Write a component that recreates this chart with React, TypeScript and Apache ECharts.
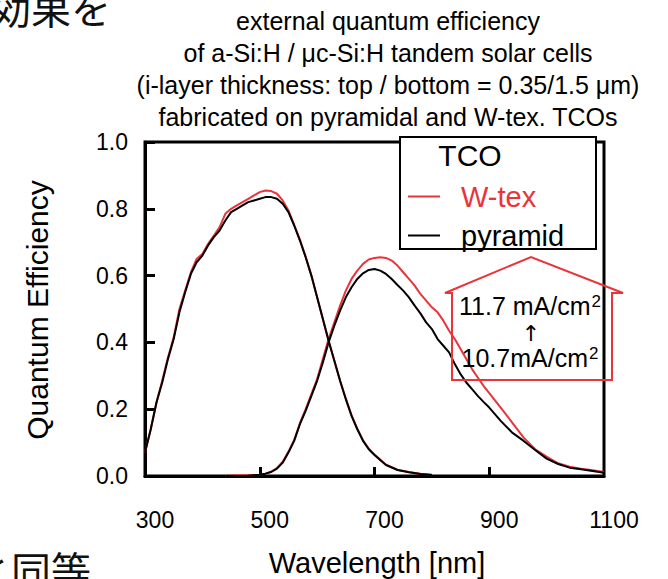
import React, { useEffect, useRef } from "react";
import * as echarts from "echarts";

// ---- data ----
const topWl = [300, 310, 320, 330, 340, 350, 360, 370, 380, 390, 400, 410, 420, 430, 440, 450, 460, 470, 480, 490, 500, 510, 520, 530, 540, 550, 560, 570, 580, 590, 600, 610, 620, 630, 640, 650, 660, 670, 680, 690, 700, 720, 740, 760, 780, 800];
const topPyramid = [0.07, 0.14, 0.22, 0.28, 0.35, 0.41, 0.49, 0.55, 0.605, 0.64, 0.66, 0.69, 0.715, 0.735, 0.765, 0.79, 0.8, 0.81, 0.82, 0.825, 0.83, 0.835, 0.835, 0.83, 0.815, 0.79, 0.75, 0.705, 0.655, 0.6, 0.535, 0.47, 0.405, 0.345, 0.285, 0.23, 0.18, 0.14, 0.105, 0.08, 0.063, 0.033, 0.018, 0.011, 0.006, 0.003];
const topWtex = [0.07, 0.14, 0.22, 0.285, 0.355, 0.415, 0.5, 0.555, 0.61, 0.65, 0.665, 0.695, 0.72, 0.745, 0.785, 0.8, 0.81, 0.82, 0.83, 0.84, 0.85, 0.855, 0.853, 0.845, 0.825, 0.795, 0.752, 0.708, 0.657, 0.6, 0.535, 0.47, 0.405, 0.345, 0.285, 0.232, 0.182, 0.142, 0.107, 0.082, 0.064, 0.034, 0.019, 0.012, 0.007, 0.004];
const botWl = [440, 460, 480, 500, 510, 520, 530, 540, 550, 560, 570, 580, 590, 600, 610, 620, 630, 640, 650, 660, 670, 680, 690, 700, 710, 720, 730, 740, 750, 760, 770, 780, 790, 800, 810, 820, 830, 840, 850, 860, 870, 880, 890, 900, 920, 940, 960, 980, 1000, 1020, 1040, 1060, 1080, 1100];
const botPyramid = [0, 0, 0.001, 0.004, 0.007, 0.012, 0.022, 0.04, 0.07, 0.105, 0.155, 0.195, 0.24, 0.285, 0.34, 0.4, 0.45, 0.495, 0.535, 0.565, 0.59, 0.607, 0.617, 0.62, 0.615, 0.605, 0.59, 0.572, 0.555, 0.535, 0.51, 0.487, 0.46, 0.44, 0.41, 0.39, 0.37, 0.335, 0.305, 0.28, 0.26, 0.24, 0.222, 0.205, 0.165, 0.13, 0.105, 0.078, 0.052, 0.036, 0.025, 0.02, 0.015, 0.01];
const botWtex = [0, 0.002, 0.002, 0.004, 0.007, 0.013, 0.024, 0.043, 0.073, 0.108, 0.158, 0.2, 0.245, 0.29, 0.35, 0.41, 0.46, 0.51, 0.555, 0.59, 0.615, 0.635, 0.648, 0.653, 0.655, 0.653, 0.645, 0.63, 0.61, 0.59, 0.57, 0.545, 0.525, 0.505, 0.49, 0.465, 0.435, 0.41, 0.38, 0.35, 0.32, 0.295, 0.27, 0.248, 0.205, 0.16, 0.115, 0.08, 0.058, 0.038, 0.028, 0.022, 0.017, 0.012];

const xTickValues = [300, 500, 700, 900, 1100];
const xInnerTicks = [500, 700, 900];
const titleLines = [
  "external quantum efficiency",
  "of a-Si:H / μc-Si:H tandem solar cells",
  "(i-layer thickness: top / bottom = 0.35/1.5 μm)",
  "fabricated on pyramidal and W-tex. TCOs",
];
const legendTitle = "TCO";
const seriesNames = ["W-tex", "pyramid"];
const annotationLines = ["11.7 mA/cm", "↑", "10.7mA/cm"];
const jpTop = "効果を";
const jpBottom = "と同等";

const RED = "#e8343a";
const FONT = "Liberation Sans";

const pairs = (wl: number[], v: number[]) => wl.map((w, i) => [w, v[i]]);

export default function App() {
  const ref = useRef<HTMLDivElement>(null);
  useEffect(() => {
    const chart = echarts.init(ref.current!, null, { renderer: "svg" });
    const lineSeries = (name: string, data: number[][], color: string, z: number) => ({
      type: "line",
      name,
      data,
      showSymbol: false,
      symbol: "none",
      smooth: false,
      color,
      z,
      lineStyle: { color, width: 2 },
    });
    const centered = { align: "center", verticalAlign: "middle", textAlign: "center", textVerticalAlign: "middle" };
    const supText = (t: string) => ({
      text: "{a|" + t + "}{s|2}",
      rich: {
        a: { fontFamily: FONT, fontSize: 25, fill: "#000", color: "#000" },
        s: { fontFamily: FONT, fontSize: 17, fill: "#000", color: "#000", verticalAlign: "top", padding: [0, 0, 9, 1] },
      },
      ...centered,
    });
    chart.setOption({
      animation: false,
      backgroundColor: "#fff",
      textStyle: { fontFamily: FONT, color: "#000" },
      title: {
        text: titleLines.join("\n"),
        left: 383,
        top: 0,
        textAlign: "center",
        textStyle: { fontFamily: FONT, fontSize: 25, fontWeight: "normal", color: "#000", lineHeight: 32 },
      },
      grid: {
        left: 145,
        top: 142,
        right: 64,
        bottom: 103,
        show: true,
        borderColor: "#000",
        borderWidth: 3,
        backgroundColor: "transparent",
      },
      legend: {
        orient: "vertical",
        left: 403,
        top: 177,
        icon: "rect",
        itemWidth: 32,
        itemHeight: 2,
        itemGap: 10,
        z: 6,
        textStyle: { fontFamily: FONT, fontSize: 29, padding: [0, 0, 0, 16] },
        data: [
          { name: seriesNames[0], textStyle: { color: RED } },
          { name: seriesNames[1], textStyle: { color: "#000" } },
        ],
      },
      xAxis: {
        type: "value",
        min: 300,
        max: 1100,
        splitLine: { show: false },
        axisLine: { show: true, lineStyle: { color: "#000", width: 3 } },
        axisTick: { show: true, inside: true, length: 9, lineStyle: { color: "#000", width: 3 }, customValues: xInnerTicks },
        axisLabel: {
          customValues: xTickValues,
          fontFamily: FONT,
          fontSize: 23,
          color: "#000",
          margin: 32,
          padding: [0, 0, 0, 20],
          formatter: (v: number) => String(v),
        },
      },
      yAxis: {
        type: "value",
        min: 0,
        max: 1,
        interval: 0.2,
        splitLine: { show: false },
        axisLine: { show: true, lineStyle: { color: "#000", width: 3 } },
        axisTick: { show: true, inside: true, length: 10, lineStyle: { color: "#000", width: 3 } },
        axisLabel: {
          fontFamily: FONT,
          fontSize: 23,
          color: "#000",
          margin: 17,
          formatter: (v: number) => v.toFixed(1),
        },
      },
      series: [
        lineSeries(seriesNames[0], pairs(topWl, topWtex), RED, 2),
        lineSeries(seriesNames[0], pairs(botWl, botWtex), RED, 2),
        lineSeries(seriesNames[1], pairs(topWl, topPyramid), "#000", 3),
        lineSeries(seriesNames[1], pairs(botWl, botPyramid), "#000", 3),
      ],
      graphic: [
        {
          type: "rect",
          z: 5,
          shape: { x: 400, y: 137, width: 196, height: 112 },
          style: { fill: "#fff", stroke: "#000", lineWidth: 2 },
        },
        {
          type: "text",
          z: 7,
          x: 470,
          y: 155,
          style: { text: legendTitle, fontFamily: FONT, fontSize: 30, fill: "#000", ...centered },
        },
        {
          type: "polygon",
          z: 5,
          shape: { points: [[445, 293], [531, 257], [623, 293], [612, 293], [612, 380], [452, 380], [452, 293]] },
          style: { fill: "none", stroke: RED, lineWidth: 2 },
        },
        { type: "text", z: 7, x: 530, y: 306, style: supText(annotationLines[0]) },
        {
          type: "text",
          z: 7,
          x: 531,
          y: 333,
          style: { text: annotationLines[1], fontFamily: "DejaVu Sans", fontSize: 22, fill: "#000", ...centered },
        },
        { type: "text", z: 7, x: 530, y: 358, style: supText(annotationLines[2]) },
        {
          type: "text",
          z: 7,
          x: 37,
          y: 310,
          rotation: Math.PI / 2,
          style: { text: "Quantum Efficiency", fontFamily: FONT, fontSize: 30, fill: "#000", ...centered },
        },
        {
          type: "text",
          z: 7,
          x: 377,
          y: 563,
          style: { text: "Wavelength [nm]", fontFamily: FONT, fontSize: 29, fill: "#000", ...centered },
        },
        {
          type: "text",
          z: 7,
          x: -9,
          y: 27,
          style: { text: jpTop, fontFamily: "Noto Sans CJK JP", fontSize: 40, fill: "#111", align: "left", verticalAlign: "bottom", textAlign: "left", textVerticalAlign: "bottom" },
        },
        {
          type: "text",
          z: 7,
          x: -29,
          y: 549,
          style: { text: jpBottom, fontFamily: "Noto Sans CJK JP", fontSize: 40, fill: "#111", align: "left", verticalAlign: "top", textAlign: "left", textVerticalAlign: "top" },
        },
      ],
    });
    return () => chart.dispose();
  }, []);
  return (
    <div
      ref={ref}
      style={{ position: "fixed", left: 0, top: 0, width: 668, height: 579, background: "#fff" }}
    />
  );
}
